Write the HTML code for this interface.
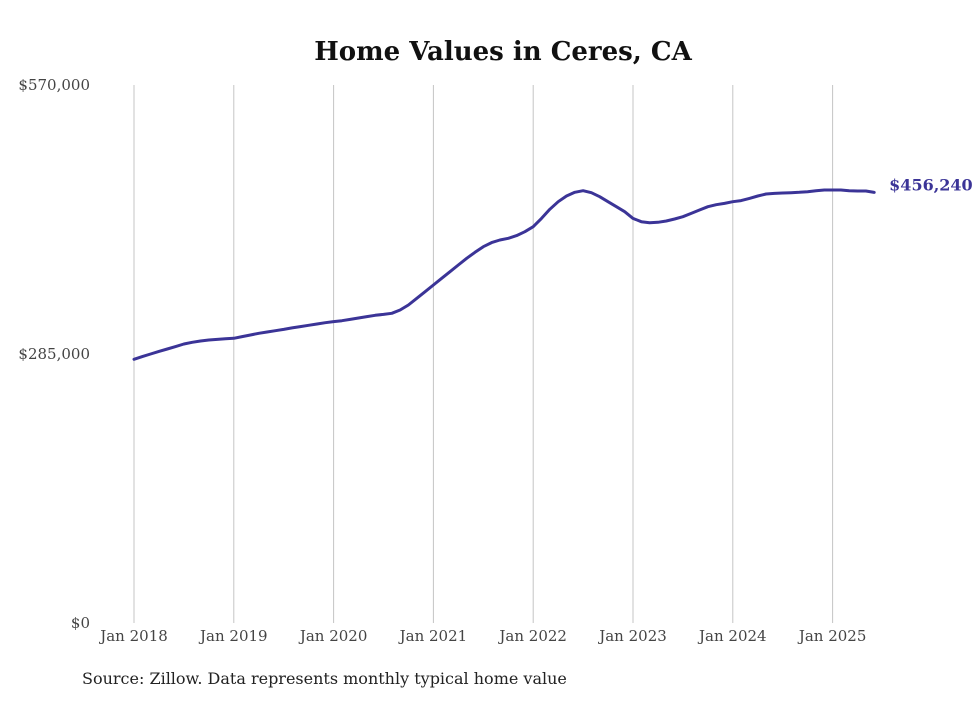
<!DOCTYPE html>
<html><head><meta charset="utf-8"><style>
body{margin:0;background:#fff;}
svg text{font-family:"DejaVu Serif","Liberation Serif",serif;}
</style></head><body>
<svg id="chart" width="980" height="699" xmlns="http://www.w3.org/2000/svg">
<rect width="980" height="699" fill="#fff"/>
<text x="503" y="60" text-anchor="middle" font-size="26" font-weight="bold" fill="#111">Home Values in Ceres, CA</text>
<g id="grid"></g><g id="yaxis"></g><g id="xaxis"></g><g id="series"></g>
<text x="82" y="684" font-size="16" fill="#222">Source: Zillow. Data represents monthly typical home value</text>
</svg>
<script>
const yearLabels=["Jan 2018","Jan 2019","Jan 2020","Jan 2021","Jan 2022","Jan 2023","Jan 2024","Jan 2025"];
const yTicks=[0,285000,570000];
const yTickLabels=["$0","$285,000","$570,000"];
const values=[279.4,282.2,285.0,287.8,290.3,292.8,295.6,297.4,298.8,299.8,300.5,301.2,
301.6,303.4,305.1,306.9,308.3,309.7,311.1,312.6,314.0,315.4,316.8,318.2,
319.3,320.3,321.7,323.1,324.6,326.0,327.0,328.1,331.6,336.9,344.0,351.0,
358.1,365.2,372.2,379.3,386.4,392.7,398.7,403.0,405.8,407.6,410.4,414.6,
419.9,428.7,438.3,446.4,452.4,456.3,458.0,455.9,451.7,446.4,441.1,435.8,
428.7,425.2,424.1,424.5,425.9,428.0,430.5,434.0,437.6,441.1,443.2,444.6,
446.4,447.5,449.9,452.4,454.5,455.2,455.6,455.9,456.3,457.0,458.0,458.8,
458.8,458.8,458.0,457.7,457.7,456.24];
const endLabel="$456,240";
const NS="http://www.w3.org/2000/svg";
const x0=134,perYear=99.8,yTop=85,yBot=623,yMax=570000;
const xM=m=>x0+m*perYear/12;
const yV=v=>yBot-(v/yMax)*(yBot-yTop);
function mk(tag,attrs,parent,text){const e=document.createElementNS(NS,tag);for(const k in attrs)e.setAttribute(k,attrs[k]);if(text!==undefined)e.textContent=text;parent.appendChild(e);return e;}
const grid=document.getElementById('grid'),xa=document.getElementById('xaxis'),ya=document.getElementById('yaxis'),se=document.getElementById('series');
yearLabels.forEach((l,i)=>{const x=xM(i*12);
const g=mk('line',{x1:x,x2:x,y1:yTop,y2:yBot,stroke:'#c4c4c4','stroke-width':1},grid);


const t=mk('text',{x:x,y:641,'text-anchor':'middle','font-size':15,fill:'#444'},xa,l);

});
yTicks.forEach((v,i)=>{const t=mk('text',{x:90,y:yV(v)+5,'text-anchor':'end','font-size':15,fill:'#444'},ya,yTickLabels[i]);

});
const pts=values.map((v,i)=>xM(i).toFixed(1)+','+yV(v*1000).toFixed(1)).join(' ');
const line=mk('polyline',{points:pts,fill:'none',stroke:'#3b3497','stroke-width':3,'stroke-linejoin':'round','stroke-linecap':'round'},se);


const last=values.length-1;
const lab=mk('text',{x:xM(last)+15,y:yV(values[last]*1000)+-2,'font-size':16,'font-weight':'bold',fill:'#3b3497'},se,endLabel);


</script>
</body></html>
